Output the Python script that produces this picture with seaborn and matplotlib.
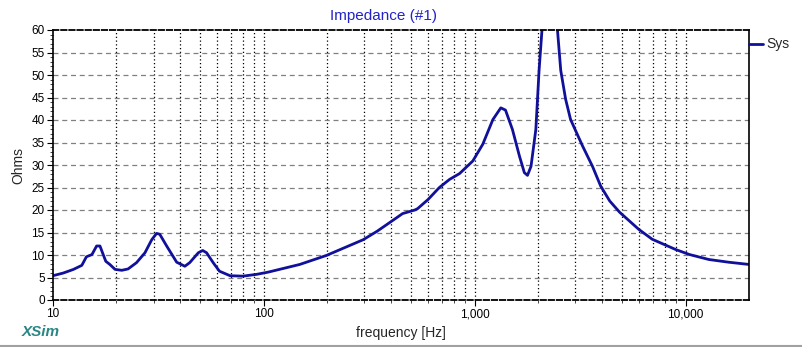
import numpy as np
import pandas as pd
import matplotlib
matplotlib.use("Agg")
import matplotlib.pyplot as plt
import seaborn as sns
from matplotlib.ticker import FixedLocator, NullFormatter, MultipleLocator

freq_hz = [10, 11.2, 12.5, 13.7, 14.4, 15.3, 16.1, 16.7, 17.3, 17.8, 18.6, 19.7,
           21.2, 22.7, 24.9, 27.3, 29.4, 31.0, 32.1, 34.6, 38.6, 42.2, 44.5, 48.9,
           51.3, 53.5, 57.5, 61.6, 69.1, 79.5, 92.4, 105, 148, 198, 296, 345,
           395, 455, 520, 536, 600, 680, 760, 848, 980, 1092, 1220, 1330, 1400,
           1510, 1630, 1720, 1780, 1850, 1950, 2020, 2100, 2200, 2300, 2450,
           2560, 2700, 2850, 3040, 3250, 3620, 3960, 4370, 4870, 6000, 6950,
           9000, 10450, 12900, 16000, 20000]
impedance_ohm = [5.4, 6.0, 6.8, 7.7, 9.6, 10.1, 12.0, 12.0, 10.1, 8.6, 7.9, 6.8,
                 6.6, 6.9, 8.3, 10.5, 13.4, 14.8, 14.6, 12.0, 8.4, 7.5, 8.3, 10.5,
                 11.0, 10.5, 8.3, 6.4, 5.4, 5.3, 5.7, 6.2, 7.9, 9.9, 13.4, 15.3,
                 17.2, 19.2, 20.0, 20.3, 22.3, 25.0, 26.8, 28.1, 30.9, 34.6, 40.1, 42.7, 42.2,
                 37.9, 32.0, 28.3, 27.7, 29.7, 37.9, 51.0, 62.0, 85.0, 90.0, 62.0,
                 51.0, 44.6, 40.1, 37.2, 34.2, 29.7, 25.3, 22.0, 19.5, 15.7, 13.5,
                 11.2, 10.1, 9.0, 8.4, 7.9]
series_name = "Sys"
title_text = "Impedance (#1)"
x_label = "frequency [Hz]"
y_label = "Ohms"
x_tick_values = [10, 100, 1000, 10000]
x_tick_labels = ["10", "100", "1,000", "10,000"]

df = pd.DataFrame({"freq": freq_hz, "ohm": impedance_ohm, "series": series_name})

sns.set_style("white")
plt.rcParams["font.family"] = ["Liberation Sans", "DejaVu Sans"]

W, H = 802, 347
fig = plt.figure(figsize=(W / 100, H / 100), dpi=100)
ax = fig.add_axes([53 / W, (H - 300) / H, (749 - 53) / W, (300 - 30) / H])

line_color = "#10109a"
sns.lineplot(data=df, x="freq", y="ohm", ax=ax, color=line_color, linewidth=2.0,
             legend=False, sort=True)
for l in ax.lines:
    l.set_solid_joinstyle("round")
ax.set_xscale("log")
ax.set_xlim(10, 20000)
ax.set_ylim(0, 60)

# grid
minor_x = [m * 10 ** e for e in range(1, 5) for m in range(2, 10) if m * 10 ** e < 20000]
for xv in minor_x + [100, 1000, 10000]:
    ax.axvline(xv, color="black", linestyle=(0, (1, 2)), linewidth=0.9, zorder=0)
for yv in range(5, 60, 5):
    ax.axhline(yv, color="#808080", linestyle=(0, (4, 3)), linewidth=0.9, zorder=0)

ax.xaxis.set_major_locator(FixedLocator(x_tick_values))
ax.set_xticklabels(x_tick_labels)
ax.xaxis.set_minor_locator(FixedLocator(minor_x))
ax.xaxis.set_minor_formatter(NullFormatter())
ax.yaxis.set_major_locator(MultipleLocator(5))
ax.yaxis.set_minor_locator(MultipleLocator(1))
ax.tick_params(axis="both", which="major", direction="out", length=4, width=0.8,
               labelsize=8.5, colors="black", pad=2)
ax.tick_params(axis="both", which="minor", direction="out", length=2, width=0.6)
ax.tick_params(axis="x", which="both", bottom=True)
ax.tick_params(axis="y", which="both", left=True)

for s in ["left", "right"]:
    ax.spines[s].set_color("black")
    ax.spines[s].set_linewidth(1.2)
for s in ["top", "bottom"]:
    ax.spines[s].set_color("black")
    ax.spines[s].set_linewidth(1.3)
    ax.spines[s].set_linestyle((0, (3, 1.5)))

ax.set_xlabel(x_label, fontsize=10, labelpad=4)
ax.set_ylabel(y_label, fontsize=10, labelpad=4)
fig.text(383 / W, 1 - 16 / H, title_text, ha="center", va="center",
         fontsize=11, color="#2323c8")

# legend outside at right
fig.lines.append(plt.Line2D([749 / W, 763 / W], [1 - 44 / H, 1 - 44 / H],
                            color=line_color, linewidth=2.0, transform=fig.transFigure))
fig.text(766 / W, 1 - 44 / H, series_name, ha="left", va="center", fontsize=10)

fig.text(22 / W, 1 - 332 / H, "XSim", ha="left", va="center", fontsize=11,
         fontweight="bold", fontstyle="italic", color="#2a8585")
fig.lines.append(plt.Line2D([0, 1], [1 - 345.5 / H, 1 - 345.5 / H], color="#a0a0a0",
                            linewidth=1.5, transform=fig.transFigure))

fig.savefig("out.png", dpi=100)
